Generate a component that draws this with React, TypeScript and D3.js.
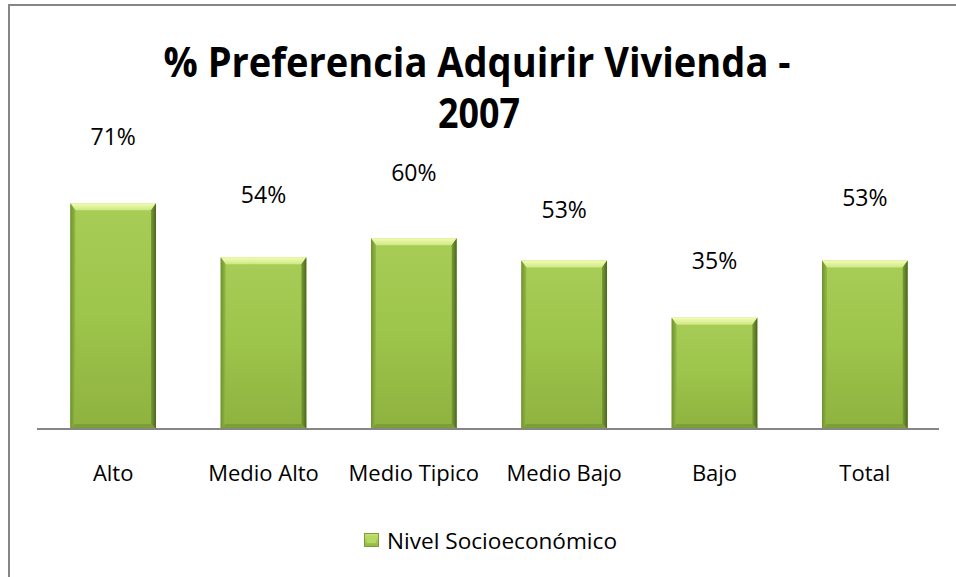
import React from "react";
import * as d3 from "d3";

const categories = ["Alto", "Medio Alto", "Medio Tipico", "Medio Bajo", "Bajo", "Total"];
const values = [0.71, 0.54, 0.60, 0.53, 0.35, 0.53];
const valueLabels = ["71%", "54%", "60%", "53%", "35%", "53%"];
const seriesName = "Nivel Socioeconómico";
const titleLines = ["% Preferencia Adquirir Vivienda -", "2007"];

// layout tweaks: vertical distance from bar top to the label centre (as placed in the original)
const labelLift = [66, 62, 65, 51, 57, 63];

const W = 956;
const H = 577;
const FONT = "'Open Sans', 'DejaVu Sans', sans-serif";

export default function App() {
  const x = d3.scaleBand<string>().domain(categories).range([38, 940]).paddingInner(0.43).paddingOuter(0.215);
  const y = d3.scaleLinear().domain([0, 0.8]).range([429, 174.6]);
  const bw = x.bandwidth();
  const e = 5; // bevel size

  return (
    <svg width={W} height={H} style={{ position: "absolute", left: 0, top: 0, background: "#fff" }}>
      <defs>
        <linearGradient id="body" x1="0" y1="0" x2="0" y2="1">
          <stop offset="0" stopColor="#a8cd57" />
          <stop offset="0.5" stopColor="#9dc44b" />
          <stop offset="1" stopColor="#8fb23f" />
        </linearGradient>
        <linearGradient id="topBevel" x1="0" y1="0" x2="0" y2="1">
          <stop offset="0" stopColor="#f4fcb4" />
          <stop offset="1" stopColor="#cde884" />
        </linearGradient>
        <linearGradient id="leftBevel" x1="0" y1="0" x2="1" y2="0">
          <stop offset="0" stopColor="#6f9130" />
          <stop offset="1" stopColor="#93ba45" />
        </linearGradient>
        <linearGradient id="rightBevel" x1="0" y1="0" x2="1" y2="0">
          <stop offset="0" stopColor="#7a9d35" />
          <stop offset="1" stopColor="#4a6620" />
        </linearGradient>
        <linearGradient id="legBody" x1="0" y1="0" x2="0" y2="1">
          <stop offset="0" stopColor="#c9e67a" />
          <stop offset="1" stopColor="#8fb23f" />
        </linearGradient>
      </defs>

      {/* chart frame */}
      <rect x={9} y={5} width={W + 20} height={H + 20} fill="none" stroke="#868686" strokeWidth={2} />

      {/* title */}
      <text x={477} y={77} textAnchor="middle" fontFamily={FONT} fontWeight="bold" fontSize={41}
        textLength={627} lengthAdjust="spacingAndGlyphs" fill="#000">{titleLines[0]}</text>
      <text x={479} y={128} textAnchor="middle" fontFamily={FONT} fontWeight="bold" fontSize={41}
        textLength={82} lengthAdjust="spacingAndGlyphs" fill="#000">{titleLines[1]}</text>

      {/* bars */}
      {categories.map((c, i) => {
        const x0 = x(c)!;
        const y0 = y(values[i]);
        const y1 = y(0);
        const t = e + 2;
        return (
          <g key={c}>
            <rect x={x0} y={y0} width={bw} height={y1 - y0} fill="url(#body)" />
            <polygon points={`${x0},${y0} ${x0 + bw},${y0} ${x0 + bw - e},${y0 + t} ${x0 + e},${y0 + t}`} fill="url(#topBevel)" />
            <polygon points={`${x0},${y0} ${x0 + e},${y0 + t} ${x0 + e},${y1 - e} ${x0},${y1}`} fill="url(#leftBevel)" />
            <polygon points={`${x0 + bw},${y0} ${x0 + bw - e},${y0 + t} ${x0 + bw - e},${y1 - e} ${x0 + bw},${y1}`} fill="url(#rightBevel)" />
            <polygon points={`${x0},${y1} ${x0 + e},${y1 - e} ${x0 + bw - e},${y1 - e} ${x0 + bw},${y1}`} fill="#7c9e38" />
            <text x={x0 + bw / 2} y={y0 - labelLift[i]} dy="0.35em" textAnchor="middle" fontFamily={FONT}
              fontSize={23} fill="#000">{valueLabels[i]}</text>
          </g>
        );
      })}

      {/* category axis */}
      <line x1={37} x2={939} y1={429} y2={429} stroke="#868686" strokeWidth={2} />
      {categories.map((c) => (
        <text key={c} x={x(c)! + bw / 2} y={481} textAnchor="middle" fontFamily={FONT} fontSize={22} fill="#000">{c}</text>
      ))}

      {/* legend */}
      <g>
        <rect x={364} y={533} width={15} height={14} fill="url(#legBody)" />
        <rect x={364.5} y={533.5} width={14} height={13} fill="none" stroke="#7c9e38" strokeWidth={1} />
        <rect x={367} y={536} width={9} height={7} fill="#b5d862" />
        <text x={387} y={549} fontFamily={FONT} fontSize={22} textLength={230} lengthAdjust="spacingAndGlyphs" fill="#000">{seriesName}</text>
      </g>
    </svg>
  );
}
